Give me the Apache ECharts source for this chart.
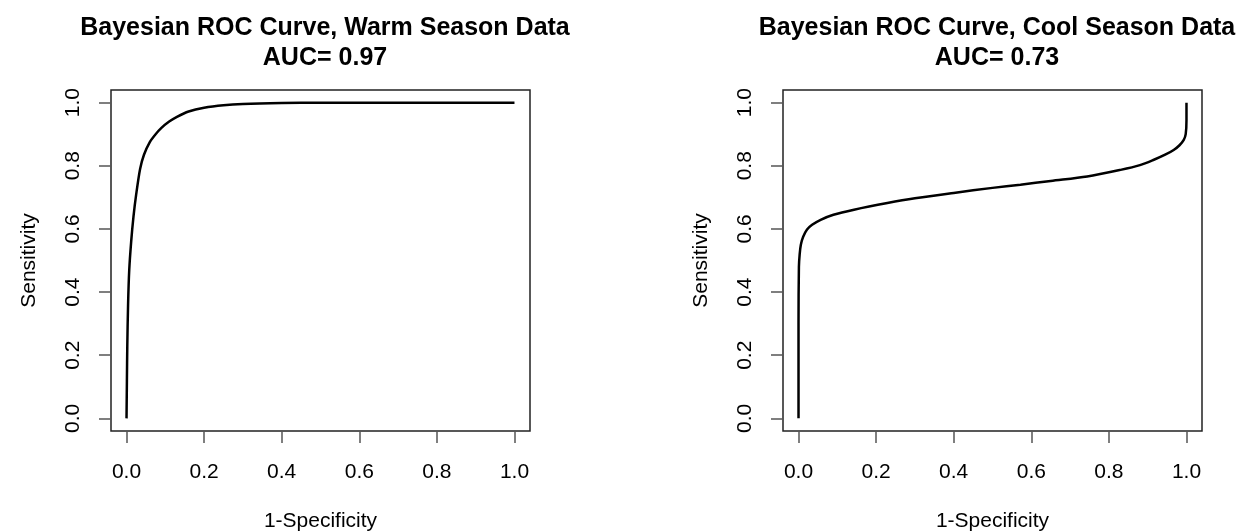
<!DOCTYPE html>
<html>
<head>
<meta charset="utf-8">
<title>Bayesian ROC Curves</title>
<script src="https://cdn.jsdelivr.net/npm/echarts@6.0.0/dist/echarts.min.js"></script>
<style>
  html, body { margin: 0; padding: 0; background: #fff; }
  #chart { width: 1241px; height: 532px; }
</style>
</head>
<body>
<div id="chart"></div>
<script>
// tick positions shared by both panels
const ticks = [0, 0.2, 0.4, 0.6, 0.8, 1.0]

// warm season ROC
const warmFpr = [0, 0.001, 0.002, 0.004, 0.007, 0.012, 0.018, 0.025, 0.035, 0.045, 0.06, 0.075, 0.09, 0.11, 0.13, 0.16, 0.2, 0.25, 0.3, 0.4, 0.5, 0.7, 1.0]
const warmTpr = [0, 0.12, 0.23, 0.36, 0.47, 0.56, 0.64, 0.71, 0.79, 0.835, 0.875, 0.9, 0.92, 0.94, 0.955, 0.972, 0.984, 0.992, 0.996, 0.999, 1, 1, 1]

// cool season ROC
const coolFpr = [0, 0, 0.001, 0.003, 0.006, 0.012, 0.022, 0.035, 0.057, 0.09, 0.143, 0.229, 0.3, 0.4, 0.5, 0.572, 0.65, 0.744, 0.83, 0.88, 0.916, 0.945, 0.967, 0.982, 0.993, 0.998, 1, 1]
const coolTpr = [0, 0.3, 0.48, 0.52, 0.55, 0.575, 0.598, 0.613, 0.629, 0.645, 0.661, 0.682, 0.697, 0.714, 0.73, 0.74, 0.752, 0.766, 0.787, 0.802, 0.819, 0.835, 0.85, 0.865, 0.882, 0.9, 0.945, 1.0]

const titles = [
  'Bayesian ROC Curve, Warm Season Data\nAUC= 0.97',
  'Bayesian ROC Curve, Cool Season Data\nAUC= 0.73'
]

const font = 'Liberation Sans, Arial, sans-serif'
const chart = echarts.init(document.getElementById('chart'))

const makeX = (gridIndex) => ({
  type: 'value',
  gridIndex,
  min: -0.04,
  max: 1.04,
  axisLine: { show: false, onZero: false },
  splitLine: { show: false },
  axisTick: {
    show: true,
    inside: false,
    length: 12,
    customValues: ticks,
    lineStyle: { color: '#555', width: 1.5 }
  },
  axisLabel: {
    customValues: ticks,
    margin: 31,
    fontSize: 21,
    fontFamily: font,
    color: '#000',
    formatter: (v) => v.toFixed(1)
  },
  name: '1-Specificity',
  nameLocation: 'middle',
  nameGap: 80,
  nameTextStyle: { fontSize: 21, fontFamily: font, color: '#000' }
})

const makeY = (gridIndex) => ({
  type: 'value',
  gridIndex,
  min: -0.04,
  max: 1.04,
  axisLine: { show: false, onZero: false },
  splitLine: { show: false },
  axisTick: {
    show: true,
    inside: false,
    length: 12,
    customValues: ticks,
    lineStyle: { color: '#555', width: 1.5 }
  },
  axisLabel: {
    customValues: ticks,
    rotate: 90,
    margin: 27,
    fontSize: 21,
    fontFamily: font,
    color: '#000',
    formatter: (v) => v.toFixed(1)
  },
  name: 'Sensitivity',
  nameLocation: 'middle',
  nameGap: 71,
  nameTextStyle: { fontSize: 21, fontFamily: font, color: '#000' }
})

const gridBox = {
  show: true,
  borderColor: '#222',
  borderWidth: 1.5,
  backgroundColor: 'transparent',
  outerBoundsMode: 'none',
  containLabel: false
}

const option = {
  animation: false,
  backgroundColor: '#fff',
  title: [
    {
      text: titles[0],
      left: 320,
      top: 8,
      textAlign: 'center',
      textStyle: { fontSize: 25, fontWeight: 'bold', fontFamily: font, color: '#000', lineHeight: 30 }
    },
    {
      text: titles[1],
      left: 992,
      top: 8,
      textAlign: 'center',
      textStyle: { fontSize: 25, fontWeight: 'bold', fontFamily: font, color: '#000', lineHeight: 30 }
    }
  ],
  grid: [
    Object.assign({ left: 111, top: 90, width: 419, height: 341 }, gridBox),
    Object.assign({ left: 783, top: 90, width: 419, height: 341 }, gridBox)
  ],
  xAxis: [makeX(0), makeX(1)],
  yAxis: [makeY(0), makeY(1)],
  series: [
    {
      name: 'Warm',
      type: 'line',
      xAxisIndex: 0,
      yAxisIndex: 0,
      data: warmFpr.map((x, i) => [x, warmTpr[i]]),
      smooth: 0.3,
      symbol: 'none',
      lineStyle: { color: '#000', width: 2.5 }
    },
    {
      name: 'Cool',
      type: 'line',
      xAxisIndex: 1,
      yAxisIndex: 1,
      data: coolFpr.map((x, i) => [x, coolTpr[i]]),
      smooth: 0.3,
      symbol: 'none',
      lineStyle: { color: '#000', width: 2.5 }
    }
  ]
}

chart.setOption(option)
</script>
</body>
</html>
